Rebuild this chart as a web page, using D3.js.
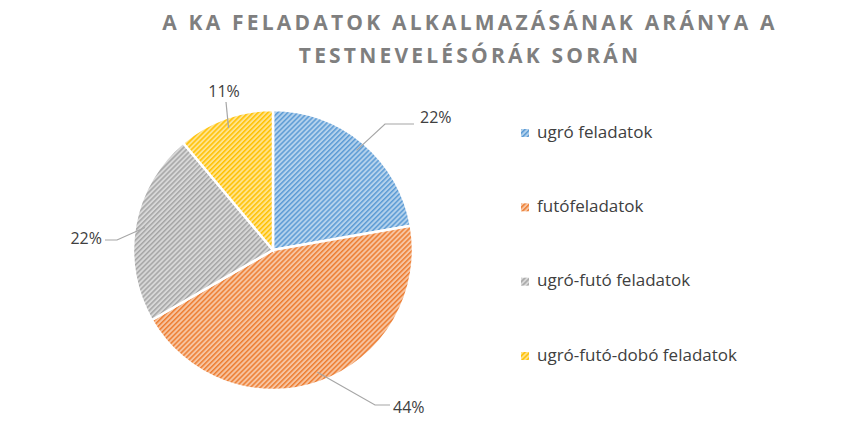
<!DOCTYPE html>
<html><head><meta charset="utf-8">
<script src="https://cdn.jsdelivr.net/npm/d3@7"></script>
<style>body{margin:0;background:#fff;font-family:"Open Sans",sans-serif}</style>
</head><body>
<script>
var categories = ["ugró feladatok", "futófeladatok", "ugró-futó feladatok", "ugró-futó-dobó feladatok"]
var values = [2, 4, 2, 1]
var labels = ["22%", "44%", "22%", "11%"]
var colors = ["#5b9bd5", "#ed7d31", "#a5a5a5", "#ffc000"]

WIDTH = 861
HEIGHT = 424
CX = 273
CY = 250
R = 140

var svg = d3.select("body").append("svg").attr("width", WIDTH).attr("height", HEIGHT)
var defs = svg.append("defs")
colors.forEach(function(c, i) {
  var p = defs.append("pattern").attr("id", "hatch" + i).attr("patternUnits", "userSpaceOnUse")
    .attr("width", 3.5).attr("height", 3.5).attr("patternTransform", "rotate(-45)")
  p.append("rect").attr("width", 3.5).attr("height", 3.5).attr("fill", d3.interpolateRgb(c, "#fff")(0.55))
  p.append("rect").attr("width", 3.5).attr("height", 1.5).attr("fill", c)
})

svg.append("text").attr("x", 470).attr("y", 30).attr("text-anchor", "middle")
  .attr("fill", "#7f7f7f").attr("font-size", 21).attr("font-weight", "bold").attr("letter-spacing", 3.2)
  .text("A KA FELADATOK ALKALMAZÁSÁNAK ARÁNYA A")
svg.append("text").attr("x", 470).attr("y", 63).attr("text-anchor", "middle")
  .attr("fill", "#7f7f7f").attr("font-size", 21).attr("font-weight", "bold").attr("letter-spacing", 3.2)
  .text("TESTNEVELÉSÓRÁK SORÁN")

var pie = d3.pie().sort(null)(values)
var arc = d3.arc().innerRadius(0).outerRadius(R)
var g = svg.append("g").attr("transform", "translate(" + CX + "," + CY + ")")
g.selectAll("path").data(pie).enter().append("path")
  .attr("d", arc).attr("fill", function(d, i) { return "url(#hatch" + i + ")" })
  .attr("stroke", "#fff").attr("stroke-width", 2.5)

var labelPos = [[420, 119, "start"], [393, 409, "start"], [102, 240, "end"], [224, 93, "middle"]]
var bends = [[[385, 124], [414, 124]], [[375, 405], [390, 405]], [[117, 240], [105, 240]], [[226, 102]]]
pie.forEach(function(d, i) {
  var a = (d.startAngle + d.endAngle) / 2
  var sx = CX + Math.sin(a) * (R - 10), sy = CY - Math.cos(a) * (R - 10)
  var pts = [[sx, sy]].concat(bends[i])
  svg.append("path").attr("d", d3.line()(pts)).attr("fill", "none").attr("stroke", "#a6a6a6").attr("stroke-width", 1.2)
  svg.append("text").attr("x", labelPos[i][0]).attr("y", labelPos[i][1]).attr("text-anchor", labelPos[i][2])
    .attr("dominant-baseline", "middle").attr("font-size", 16).attr("fill", "#404040").text(labels[i])
})

var legendY = d3.scalePoint().domain(categories).range([133, 356])
categories.forEach(function(c, i) {
  svg.append("rect").attr("x", 521).attr("y", legendY(c) - 4).attr("width", 8).attr("height", 8)
    .attr("fill", "url(#hatch" + i + ")")
  svg.append("text").attr("x", 537).attr("y", legendY(c)).attr("dominant-baseline", "middle")
    .attr("font-size", 17).attr("fill", "#404040").text(c)
})
</script>
</body></html>
